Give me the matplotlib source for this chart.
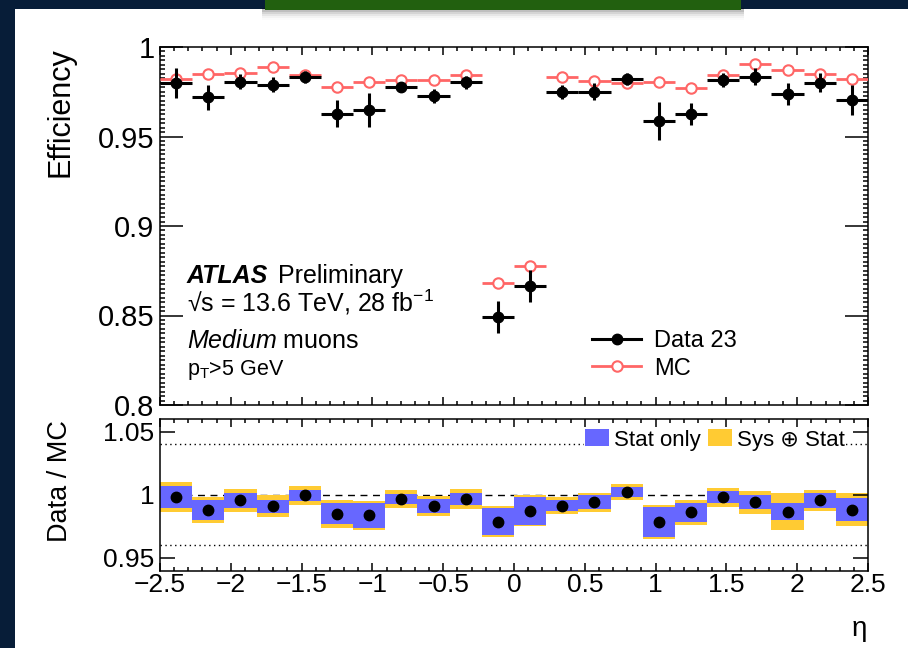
import numpy as np
import matplotlib
matplotlib.use("Agg")
import matplotlib.pyplot as plt
from matplotlib.lines import Line2D
from matplotlib.patches import Patch, Rectangle
from matplotlib.ticker import MultipleLocator, FuncFormatter

plt.rcParams["font.family"] = ["Liberation Sans", "DejaVu Sans"]
plt.rcParams["mathtext.fontset"] = "custom"
plt.rcParams["mathtext.rm"] = "Liberation Sans"
plt.rcParams["mathtext.it"] = "Liberation Sans:italic"
plt.rcParams["mathtext.bf"] = "Liberation Sans:bold"

# eta binning: 22 equal bins over |eta| < 2.5
eta_edges = np.linspace(-2.5, 2.5, 23)

eff_data = [0.9797, 0.9720, 0.9806, 0.9790, 0.9834, 0.9628, 0.9647, 0.9778,
            0.9727, 0.9803, 0.8491, 0.8664, 0.9750, 0.9750, 0.9821, 0.9586,
            0.9628, 0.9816, 0.9834, 0.9737, 0.9800, 0.9703]
eff_data_err = [0.0083, 0.0070, 0.0042, 0.0042, 0.0033, 0.0075, 0.0094, 0.0028,
                0.0039, 0.0036, 0.0089, 0.0089, 0.0038, 0.0047, 0.0033, 0.0108,
                0.0061, 0.0038, 0.0047, 0.0061, 0.0052, 0.0085]
eff_mc = [0.9820, 0.9848, 0.9857, 0.9890, 0.9844, 0.9778, 0.9806, 0.9816,
          0.9816, 0.9844, 0.8679, 0.8777, 0.9834, 0.9812, 0.9800, 0.9806,
          0.9769, 0.9844, 0.9904, 0.9872, 0.9848, 0.9821]

sf = [0.9982, 0.9878, 0.9956, 0.9909, 0.9995, 0.9849, 0.9836, 0.9966,
      0.9914, 0.9966, 0.9787, 0.9875, 0.9914, 0.9940, 1.0023, 0.9784,
      0.9862, 0.9979, 0.9940, 0.9867, 0.9956, 0.9883]
sf_stat = [0.0087, 0.0078, 0.0059, 0.0052, 0.0046, 0.0082, 0.0098, 0.0038,
           0.0055, 0.0047, 0.0108, 0.0111, 0.0043, 0.0055, 0.0040, 0.0118,
           0.0076, 0.0048, 0.0055, 0.0068, 0.0061, 0.0091]
sf_tot = [0.0122, 0.0102, 0.0090, 0.0089, 0.0077, 0.0113, 0.0115, 0.0068,
          0.0079, 0.0081, 0.0125, 0.0124, 0.0069, 0.0076, 0.0065, 0.0137,
          0.0098, 0.0074, 0.0090, 0.0146, 0.0085, 0.0133]

MC_RED = "#ff6666"
STAT_BLUE = "#6767ff"
SYS_YELLOW = "#ffcb33"

eta = 0.5 * (eta_edges[:-1] + eta_edges[1:])
half_w = 0.5 * np.diff(eta_edges)
sf = np.array(sf)
sf_stat = np.array(sf_stat)
sf_tot = np.array(sf_tot)

fig = plt.figure(figsize=(9.08, 6.48), dpi=100)
fig.patch.set_facecolor("#071d38")
W, H = 908.0, 648.0

# white page area and the green banner at the top
fig.add_artist(Rectangle((14.5 / W, 0), 1, (H - 9) / H, transform=fig.transFigure,
                         facecolor="white", edgecolor="none", zorder=-10))
for i, a in enumerate([0.10, 0.07, 0.05, 0.03, 0.015]):
    fig.add_artist(Rectangle((262 / W, (H - 12 - 2 * i) / H), 482 / W, (4 + 2 * i) / H,
                             transform=fig.transFigure, facecolor="black",
                             edgecolor="none", alpha=a, zorder=-9))
fig.add_artist(Rectangle((265 / W, (H - 10) / H), 476 / W, 10 / H,
                         transform=fig.transFigure, facecolor="#22600f",
                         edgecolor="none", zorder=-8))

ax1 = fig.add_axes([160 / W, (H - 405) / H, 708 / W, 358 / H])
ax2 = fig.add_axes([160 / W, (H - 570.5) / H, 708 / W, 151.5 / H])

fmt = FuncFormatter(lambda v, p: f"{v:g}".replace("-", "\u2212"))

for ax in (ax1, ax2):
    ax.set_xlim(-2.5, 2.5)
    ax.xaxis.set_major_locator(MultipleLocator(0.5))
    ax.xaxis.set_minor_locator(MultipleLocator(0.1))
    ax.yaxis.set_major_formatter(fmt)
    ax.xaxis.set_major_formatter(fmt)
    ax.tick_params(which="both", direction="in", top=True, right=True, width=1.1)
    ax.tick_params(axis="x", which="major", length=5.8)
    ax.tick_params(axis="x", which="minor", length=2.9)
    for s in ax.spines.values():
        s.set_linewidth(1.1)

# efficiency panel
ax1.set_ylim(0.8, 1.0)
ax1.yaxis.set_major_locator(MultipleLocator(0.05))
ax1.yaxis.set_minor_locator(MultipleLocator(0.0025))
ax1.tick_params(axis="y", which="major", length=16.5, labelsize=21, pad=4)
ax1.tick_params(axis="y", which="minor", length=3.6)
ax1.tick_params(axis="x", labelbottom=False)

ax1.errorbar(eta, eff_mc, xerr=half_w, fmt="o", ms=7.5, color=MC_RED,
             mfc="white", mec=MC_RED, mew=1.5, elinewidth=2.0, capsize=0, zorder=3)
ax1.errorbar(eta, eff_data, xerr=half_w, yerr=eff_data_err, fmt="o", ms=7.5,
             color="black", elinewidth=2.2, capsize=0, zorder=4)

tx = (187 - 160) / 708
ax1.text(tx, 0.340, "ATLAS", transform=ax1.transAxes, fontsize=18,
         fontweight="bold", fontstyle="italic", va="baseline")
ax1.text(0.167, 0.340, "Preliminary", transform=ax1.transAxes, fontsize=18,
         va="baseline")
ax1.text(tx, 0.260, "\u221as = 13.6 TeV, 28 fb$^{-1}$", transform=ax1.transAxes,
         fontsize=18, va="baseline")
ax1.text(tx, 0.158, r"$\mathit{Medium}$ muons", transform=ax1.transAxes,
         fontsize=18, va="baseline")
ax1.text(tx, 0.0838, r"p$_{\mathrm{T}}$>5 GeV", transform=ax1.transAxes,
         fontsize=15.5, va="baseline")

leg_handles = [Line2D([], [], color="black", marker="o", ms=7.5, lw=2.2),
               Line2D([], [], color=MC_RED, marker="o", ms=7.5, mfc="white",
                      mec=MC_RED, mew=1.5, lw=2.0)]
ax1.legend(leg_handles, ["Data 23", "MC"], loc="center left",
           bbox_to_anchor=(0.610, 0.1397), frameon=False, fontsize=17,
           handlelength=2.1, handletextpad=0.55, labelspacing=0.22,
           borderpad=0, borderaxespad=0)

# ratio panel
ax2.set_ylim(0.94, 1.06)
ax2.yaxis.set_major_locator(MultipleLocator(0.05))
ax2.tick_params(axis="y", which="major", length=10.8, labelsize=19, pad=4)
ax2.tick_params(axis="y", which="minor", length=0)
ax2.tick_params(axis="x", labelsize=19, pad=2)

ax2.axhline(1.0, color="black", lw=1.0, ls=(0, (5, 4)), zorder=0)
ax2.axhline(1.04, color="black", lw=1.0, ls=(0, (1, 2.5)), zorder=0)
ax2.axhline(0.96, color="black", lw=1.0, ls=(0, (1, 2.5)), zorder=0)

ax2.bar(eta, 2 * sf_tot, bottom=sf - sf_tot, width=2 * half_w,
        color=SYS_YELLOW, edgecolor="none", zorder=1)
ax2.bar(eta, 2 * sf_stat, bottom=sf - sf_stat, width=2 * half_w,
        color=STAT_BLUE, edgecolor="none", zorder=2)
ax2.plot(eta, sf, "o", color="black", ms=7.5, zorder=3)

band_handles = [Patch(facecolor=STAT_BLUE, edgecolor="none"),
                Patch(facecolor=SYS_YELLOW, edgecolor="none")]
ax2.legend(band_handles, ["Stat only", "Sys \u2295 Stat"], loc="center right",
           bbox_to_anchor=(0.969, 0.861), ncol=2, fontsize=16, frameon=True,
           facecolor="white", edgecolor="none", framealpha=1, fancybox=False,
           handlelength=1.1, handleheight=0.8, handletextpad=0.22,
           columnspacing=0.3, borderpad=0.05, borderaxespad=0)

fig.text(60 / W, 1 - 112.5 / H, "Efficiency", rotation=90, ha="center",
         va="center", fontsize=22)
fig.text(60 / W, 1 - 481 / H, "Data / MC", rotation=90, ha="center",
         va="center", fontsize=19.5)
fig.text(859 / W, 1 - 629 / H, "\u03b7", ha="center", va="center", fontsize=20)

fig.savefig("out.png", dpi=100, facecolor=fig.get_facecolor())
